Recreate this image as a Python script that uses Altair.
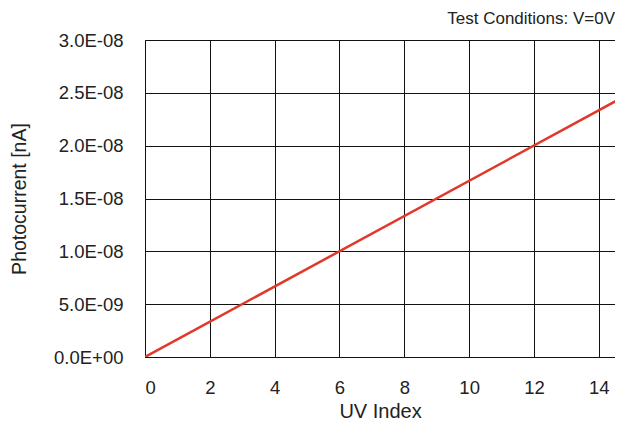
import altair as alt
import pandas as pd

# Data
uv_index = [0.0, 14.75]
photocurrent = [0.0, 2.46e-08]

x_ticks = [0, 2, 4, 6, 8, 10, 12, 14]
y_ticks = [0.0, 5e-09, 1e-08, 1.5e-08, 2e-08, 2.5e-08, 3e-08]
y_labels = ["0.0E+00", "5.0E-09", "1.0E-08", "1.5E-08", "2.0E-08", "2.5E-08", "3.0E-08"]

df = pd.DataFrame({"uv": uv_index, "pc": photocurrent})

label_expr = " : ".join(
    f"abs(datum.value - {v}) < 1e-12 ? '{l}'" for v, l in zip(y_ticks, y_labels)
) + " : ''"

FONT = "Liberation Sans"

chart = (
    alt.Chart(df)
    .mark_line(color="#e0392b", strokeWidth=2.5, clip=True)
    .encode(
        x=alt.X(
            "uv:Q",
            scale=alt.Scale(domain=[0, 14.5], nice=False, zero=False),
            axis=alt.Axis(
                title="UV Index",
                values=x_ticks,
                format="d",
                ticks=False,
                labelPadding=21,
                titlePadding=5,
                labelFontSize=18.5,
                titleFontSize=20,
                titleFontWeight="normal",
            ),
        ),
        y=alt.Y(
            "pc:Q",
            scale=alt.Scale(domain=[0, 3e-08], nice=False),
            axis=alt.Axis(
                title="Photocurrent [nA]",
                values=y_ticks,
                labelExpr=label_expr,
                ticks=False,
                labelPadding=22,
                titlePadding=24,
                labelFontSize=18.5,
                titleFontSize=19.5,
                titleFontWeight="normal",
            ),
        ),
    )
    .properties(
        width=470,
        height=317,
        autosize="none",
        padding={"left": 137, "top": 32, "right": 0, "bottom": 64},
        title=alt.TitleParams(
            "Test Conditions: V=0V",
            anchor="end",
            fontSize=17,
            fontWeight="normal",
            font=FONT,
            offset=3,
            color="#222",
        ),
    )
    .configure_axis(
        grid=True,
        gridColor="#111",
        gridWidth=1,
        gridOpacity=1,
        domainColor="#111",
        domainWidth=1,
        labelFont=FONT,
        titleFont=FONT,
        labelColor="#222",
        titleColor="#222",
    )
    .configure_view(stroke=None)
)

chart.save("out.html", embed_options={"renderer": "svg", "actions": False})
